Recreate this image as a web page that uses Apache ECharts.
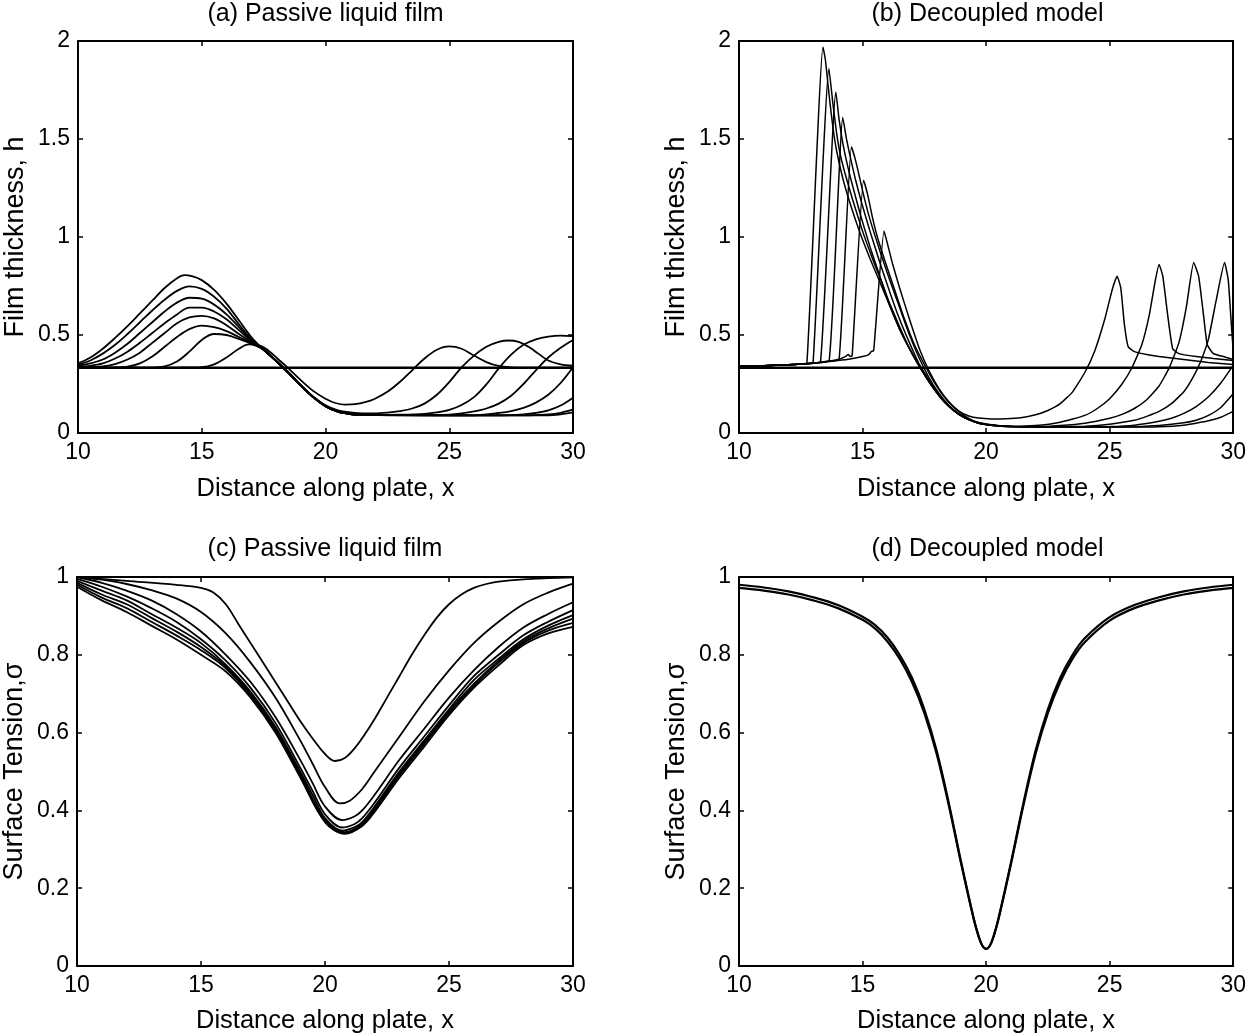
<!DOCTYPE html>
<html>
<head>
<meta charset="utf-8">
<script src="https://cdn.jsdelivr.net/npm/echarts@6/dist/echarts.min.js"></script>
<style>
html,body{margin:0;padding:0;background:#fff;}
#chart{width:1249px;height:1036px;}
</style>
</head>
<body>
<div id="chart"></div>
<script>
// ---------- tick labels ----------
const xTicks = [10, 15, 20, 25, 30];
const hTicks = [0, 0.5, 1, 1.5, 2];
const sTicks = [0, 0.2, 0.4, 0.6, 0.8, 1];

// ---------- titles / axis names ----------
const titles = ['(a) Passive liquid film', '(b) Decoupled model', '(c) Passive liquid film', '(d) Decoupled model'];
const xName = 'Distance along plate, x';
const yNames = ['Film thickness, h', 'Film thickness, h', 'Surface Tension,\u03c3', 'Surface Tension,\u03c3'];

// ---------- panel (a): film thickness, passive film ----------
const aFlat = [[10, 0.333], [30, 0.333]];
const aTail = [[17.5, 0.425], [18, 0.368], [18.5, 0.307], [19, 0.243], [19.5, 0.183], [20, 0.137], [20.5, 0.109], [21, 0.097], [21.5, 0.093], [22, 0.091]];
const a1 = [[10, 0.333], [12, 0.333], [14, 0.334], [15, 0.336], [15.5, 0.35], [16, 0.385], [16.5, 0.43], [16.9, 0.452], [17.3, 0.448], [17.7, 0.42], [18.1, 0.375], [18.5, 0.33], [19, 0.27], [19.5, 0.215], [20, 0.175], [20.4, 0.153], [20.8, 0.145], [21.2, 0.147], [21.6, 0.157], [22, 0.175], [22.5, 0.21], [23, 0.26], [23.5, 0.32], [24, 0.38], [24.5, 0.425], [25, 0.442], [25.5, 0.43], [26, 0.395], [26.5, 0.362], [27, 0.342], [27.5, 0.335], [28, 0.333], [30, 0.333]];
const a2 = [[10, 0.333], [13, 0.334], [13.5, 0.34], [14, 0.365], [14.5, 0.415], [15, 0.475], [15.5, 0.505], [16, 0.5], [16.5, 0.48], [17, 0.455], [17.5, 0.427], [18, 0.37], [18.5, 0.31], [19, 0.245], [19.5, 0.186], [20, 0.142], [20.5, 0.116], [21, 0.105], [21.5, 0.1], [22, 0.1], [22.5, 0.104], [23, 0.112], [23.5, 0.125], [24, 0.15], [24.5, 0.195], [25, 0.26], [25.5, 0.335], [26, 0.395], [26.5, 0.44], [27, 0.465], [27.4, 0.472], [27.8, 0.465], [28.2, 0.44], [28.6, 0.405], [29, 0.37], [29.5, 0.35], [30, 0.343]];
const a3 = [[10, 0.333], [11.5, 0.334], [12, 0.338], [12.5, 0.355], [13, 0.39], [13.5, 0.44], [14, 0.49], [14.5, 0.53], [15, 0.548], [15.5, 0.54], [16, 0.52], [16.5, 0.49], [17, 0.46]];
const a3r = [[23, 0.093], [24, 0.098], [24.5, 0.105], [25, 0.118], [25.5, 0.143], [26, 0.183], [26.5, 0.248], [27, 0.33], [27.5, 0.4], [28, 0.45], [28.5, 0.478], [29, 0.492], [29.5, 0.497], [30, 0.494]];
const a4 = [[10, 0.334], [10.5, 0.335], [11, 0.34], [11.5, 0.352], [12, 0.375], [12.5, 0.41], [13, 0.46], [13.5, 0.51], [14, 0.56], [14.5, 0.59], [15, 0.598], [15.5, 0.585], [16, 0.55], [16.5, 0.505], [17, 0.465]];
const a4r = [[24, 0.091], [25, 0.094], [25.5, 0.1], [26, 0.11], [26.5, 0.125], [27, 0.15], [27.5, 0.19], [28, 0.25], [28.5, 0.32], [29, 0.385], [29.5, 0.435], [30, 0.475]];
const a5 = [[10, 0.338], [10.5, 0.343], [11, 0.355], [11.5, 0.38], [12, 0.415], [12.5, 0.46], [13, 0.51], [13.5, 0.56], [14, 0.605], [14.5, 0.64], [15, 0.64], [15.5, 0.62], [16, 0.58], [16.5, 0.525], [17, 0.47]];
const a5r = [[26, 0.09], [26.5, 0.095], [27, 0.102], [27.5, 0.112], [28, 0.128], [28.5, 0.155], [29, 0.195], [29.5, 0.255], [30, 0.335]];
const a6 = [[10, 0.342], [10.5, 0.355], [11, 0.375], [11.5, 0.41], [12, 0.455], [12.5, 0.51], [13, 0.565], [13.5, 0.62], [14, 0.665], [14.5, 0.69], [15, 0.685], [15.5, 0.655], [16, 0.605], [16.5, 0.54], [17, 0.475]];
const a6r = [[27, 0.09], [28, 0.095], [28.5, 0.102], [29, 0.115], [29.5, 0.14], [30, 0.18]];
const a7 = [[10, 0.348], [10.5, 0.37], [11, 0.405], [11.5, 0.45], [12, 0.505], [12.5, 0.565], [13, 0.625], [13.5, 0.68], [14, 0.725], [14.5, 0.748], [15, 0.735], [15.5, 0.695], [16, 0.635], [16.5, 0.555], [17, 0.48]];
const a7r = [[28, 0.09], [29, 0.095], [29.5, 0.103], [30, 0.12]];
const a8 = [[10, 0.355], [10.5, 0.385], [11, 0.43], [11.5, 0.485], [12, 0.545], [12.5, 0.61], [13, 0.675], [13.5, 0.74], [14, 0.79], [14.3, 0.805], [14.6, 0.8], [15, 0.78], [15.5, 0.73], [16, 0.66], [16.5, 0.575], [17, 0.49]];
const a8r = [[29, 0.09], [30, 0.105]];

// ---------- panel (b): film thickness, decoupled model ----------
const bFlat = [[10, 0.333], [30, 0.333]];
const bBase = [[10, 0.34], [11, 0.343], [12, 0.348], [12.5, 0.352]];
const bEnv = [[14.2, 1.3], [14.5, 1.17], [14.9, 1.02], [15.3, 0.89], [15.7, 0.77], [16.1, 0.65], [16.5, 0.53], [16.9, 0.43], [17.3, 0.34], [17.7, 0.26], [18.1, 0.19], [18.5, 0.135], [18.9, 0.095], [19.3, 0.068], [19.7, 0.05], [20.2, 0.04], [21, 0.033]];
const b1 = [[13, 0.356], [14, 0.37], [14.5, 0.378], [15, 0.39], [15.25, 0.4], [15.35, 0.415], [15.45, 0.42], [15.87, 1.03], [16, 0.97], [16.2, 0.87], [16.5, 0.74], [16.9, 0.58], [17.3, 0.43], [17.7, 0.315], [18.1, 0.225], [18.5, 0.158], [18.9, 0.112], [19.3, 0.087], [19.7, 0.076], [20.2, 0.072], [20.8, 0.073], [21.4, 0.078], [22, 0.093], [22.5, 0.115], [23, 0.15], [23.5, 0.21], [24, 0.31], [24.4, 0.42], [24.8, 0.58], [25.1, 0.73], [25.3, 0.8], [25.45, 0.74], [25.6, 0.55], [25.75, 0.44], [26, 0.415], [26.5, 0.4], [27, 0.39], [28, 0.375], [29, 0.36], [30, 0.35]];
const b2 = [[13, 0.356], [14, 0.375], [14.3, 0.39], [14.42, 0.4], [14.5, 0.39], [14.58, 0.395], [15.04, 1.29], [15.2, 1.22], [15.4, 1.1], [15.6, 1.0], [15.9, 0.88], [16.3, 0.73], [16.7, 0.58], [17.1, 0.45], [17.5, 0.35], [17.9, 0.26], [18.3, 0.185], [18.7, 0.13], [19.1, 0.09], [19.5, 0.062], [20, 0.046], [21, 0.034], [22, 0.038], [23, 0.055], [24, 0.09], [24.5, 0.125], [25, 0.175], [25.5, 0.25], [25.9, 0.333], [26.3, 0.45], [26.6, 0.6], [26.85, 0.78], [27, 0.86], [27.15, 0.8], [27.35, 0.6], [27.55, 0.43], [27.8, 0.405], [28.5, 0.39], [29.2, 0.38], [30, 0.37]];
const b3 = [[13, 0.356], [13.6, 0.366], [14.05, 0.375], [14.55, 1.46], [14.7, 1.4], [14.85, 1.32], [15.05, 1.21], [15.3, 1.09], [15.7, 0.93], [16.1, 0.78], [16.5, 0.64], [16.9, 0.5], [17.3, 0.38], [17.7, 0.28], [18.1, 0.2], [18.5, 0.14], [18.9, 0.098], [19.3, 0.07], [19.7, 0.052], [20.2, 0.041], [21, 0.033], [22, 0.032], [23, 0.038], [24, 0.05], [25, 0.075], [25.5, 0.095], [26, 0.125], [26.5, 0.17], [27, 0.24], [27.4, 0.33], [27.8, 0.46], [28.1, 0.64], [28.4, 0.87], [28.6, 0.8], [28.8, 0.6], [28.95, 0.45], [29.2, 0.405], [29.6, 0.39], [30, 0.375]];
const b4 = [[13, 0.356], [13.65, 0.37], [14.2, 1.61], [14.35, 1.5], [14.5, 1.41], [14.7, 1.3], [14.95, 1.18], [15.3, 1.03], [15.7, 0.87], [16.1, 0.72], [16.5, 0.58], [16.9, 0.46], [17.3, 0.35]];
const b4r = [[21, 0.033], [22, 0.03], [24, 0.035], [25, 0.045], [26, 0.065], [26.5, 0.085], [27, 0.11], [27.5, 0.15], [28, 0.21], [28.4, 0.29], [28.7, 0.37], [29, 0.48], [29.3, 0.67], [29.65, 0.87], [29.8, 0.78], [29.9, 0.6], [30, 0.42]];
const b5 = [[12.8, 0.355], [13.3, 0.365], [13.92, 1.74], [14.05, 1.6], [14.2, 1.48], [14.4, 1.36], [14.6, 1.26], [14.9, 1.12], [15.3, 0.95], [15.7, 0.8], [16.1, 0.66]];
const b5r = [[21, 0.033], [23, 0.03], [25, 0.033], [26, 0.04], [27, 0.06], [27.5, 0.075], [28, 0.1], [28.5, 0.135], [29, 0.185], [29.5, 0.255], [30, 0.345]];
const b6 = [[12.8, 0.355], [13.0, 0.362], [13.64, 1.86], [13.8, 1.68], [13.95, 1.53], [14.1, 1.42], [14.3, 1.32], [14.6, 1.19], [15.0, 1.03], [15.4, 0.89], [15.8, 0.76]];
const b6r = [[21, 0.033], [25, 0.03], [26, 0.032], [27, 0.038], [28, 0.052], [28.5, 0.065], [29, 0.09], [29.5, 0.13], [30, 0.2]];
const b7 = [[12.75, 0.36], [13.4, 1.97], [13.5, 1.9], [13.65, 1.72], [13.8, 1.56], [13.95, 1.44]];
const b7r = [[21, 0.033], [26, 0.03], [27, 0.032], [28, 0.04], [28.5, 0.05], [29, 0.062], [29.5, 0.08], [30, 0.11]];

// ---------- panel (c): surface tension, passive film ----------
const cFlat = [[10, 1], [30, 1]];
const c1 = [[10, 1.0], [12, 0.99], [14, 0.98], [15, 0.972], [15.5, 0.96], [16, 0.93], [16.5, 0.88], [17, 0.83], [17.5, 0.78], [18, 0.73], [18.5, 0.68], [19, 0.63], [19.5, 0.585], [20, 0.545], [20.4, 0.527], [20.8, 0.535], [21.2, 0.56], [21.6, 0.595], [22, 0.635], [22.5, 0.69], [23, 0.745], [23.5, 0.8], [24, 0.85], [24.5, 0.895], [25, 0.93], [25.5, 0.955], [26, 0.972], [26.5, 0.982], [27, 0.988], [28, 0.994], [29, 0.997], [30, 0.999]];
const c2 = [[10, 1.0], [11, 0.993], [12, 0.982], [13, 0.966], [14, 0.945], [15, 0.91], [16, 0.855], [17, 0.78], [18, 0.69], [19, 0.58], [19.5, 0.52], [20, 0.46], [20.6, 0.418], [21, 0.425], [21.5, 0.455], [22, 0.5], [23, 0.59], [24, 0.68], [25, 0.76], [26, 0.83], [27, 0.885], [28, 0.93], [29, 0.96], [30, 0.983]];
const c3 = [[10, 1.0], [11, 0.985], [12, 0.965], [13, 0.94], [14, 0.905], [15, 0.86], [16, 0.8], [17, 0.73], [18, 0.64], [19, 0.53], [19.5, 0.47], [20, 0.41], [20.7, 0.375], [21.2, 0.385], [21.5, 0.4], [22, 0.44], [23, 0.53], [24, 0.61], [25, 0.69], [26, 0.76], [27, 0.82], [28, 0.87], [29, 0.905], [30, 0.935]];
const c4 = [[10, 0.995], [11, 0.975], [12, 0.95], [13, 0.92], [14, 0.885], [15, 0.84], [16, 0.785], [17, 0.715], [18, 0.625], [19, 0.51], [19.5, 0.45], [20, 0.39], [20.7, 0.356], [21.2, 0.365], [21.5, 0.38], [22, 0.42], [23, 0.51], [24, 0.59], [25, 0.67], [26, 0.745], [27, 0.8], [28, 0.85], [29, 0.885], [30, 0.915]];
const c5 = [[10, 0.99], [11, 0.965], [12, 0.94], [13, 0.905], [14, 0.87], [15, 0.83], [16, 0.775], [17, 0.705], [18, 0.615], [19, 0.5], [19.5, 0.44], [20, 0.38], [20.7, 0.348], [21.2, 0.357], [21.5, 0.37], [22, 0.41], [23, 0.5], [24, 0.58], [25, 0.66], [26, 0.735], [27, 0.79], [28, 0.84], [29, 0.875], [30, 0.902]];
const c6 = [[10, 0.985], [11, 0.955], [12, 0.93], [13, 0.895], [14, 0.86], [15, 0.82], [16, 0.77], [17, 0.7], [18, 0.61], [19, 0.495], [20, 0.375], [20.8, 0.344], [21.5, 0.365], [22, 0.405], [23, 0.495], [24, 0.575], [25, 0.655], [26, 0.725], [27, 0.785], [28, 0.835], [29, 0.868], [30, 0.893]];
const c7 = [[10, 0.98], [11, 0.947], [12, 0.92], [13, 0.885], [14, 0.85], [15, 0.812], [16, 0.765], [17, 0.695], [18, 0.605], [19, 0.49], [20, 0.372], [20.8, 0.342], [21.5, 0.362], [22, 0.4], [23, 0.49], [24, 0.57], [25, 0.65], [26, 0.72], [27, 0.78], [28, 0.83], [29, 0.862], [30, 0.882]];
const c8 = [[10, 0.975], [11, 0.94], [12, 0.91], [13, 0.875], [14, 0.84], [15, 0.8], [16, 0.757], [17, 0.69], [18, 0.6], [19, 0.485], [20, 0.37], [20.8, 0.34], [21.5, 0.36], [22, 0.396], [23, 0.484], [24, 0.564], [25, 0.645], [26, 0.715], [27, 0.773], [28, 0.825], [29, 0.855], [30, 0.872]];

// ---------- panel (d): surface tension, decoupled model (band edges) ----------
const dLower = [[10, 0.972], [11, 0.965], [12, 0.955], [13, 0.94], [14, 0.92], [15, 0.89], [15.5, 0.868], [16, 0.835], [16.5, 0.79], [17, 0.73], [17.5, 0.65], [18, 0.545], [18.5, 0.41], [19, 0.26], [19.5, 0.12], [19.7, 0.075], [19.85, 0.052], [20, 0.044], [20.15, 0.052], [20.3, 0.075], [20.5, 0.12], [21, 0.26], [21.5, 0.41], [22, 0.545], [22.5, 0.65], [23, 0.73], [23.5, 0.79], [24, 0.833], [25, 0.888], [26, 0.92], [27, 0.94], [28, 0.955], [29, 0.965], [30, 0.972]];
const dUpper = [[10, 0.98], [11, 0.973], [12, 0.963], [13, 0.948], [14, 0.928], [15, 0.898], [15.5, 0.877], [16, 0.845], [16.5, 0.8], [17, 0.741], [17.5, 0.66], [18, 0.553], [18.5, 0.416], [19, 0.264], [19.5, 0.122], [19.7, 0.076], [19.85, 0.052], [20, 0.044], [20.15, 0.052], [20.3, 0.076], [20.5, 0.122], [21, 0.264], [21.5, 0.416], [22, 0.553], [22.5, 0.66], [23, 0.741], [23.5, 0.8], [24, 0.843], [25, 0.897], [26, 0.928], [27, 0.948], [28, 0.963], [29, 0.973], [30, 0.98]];

// ---------- assemble ----------
const FONT = '"Liberation Sans", Arial, Helvetica, sans-serif';
const grids = [
  {left: 78, top: 41, width: 495, height: 392},
  {left: 739, top: 41, width: 497, height: 392},
  {left: 77, top: 577, width: 496, height: 389},
  {left: 739, top: 577, width: 497, height: 389}
];
const yTickSets = [hTicks, hTicks, sTicks, sTicks];

const xAxes = [], yAxes = [];
grids.forEach((g, i) => {
  const common = {
    type: 'value', gridIndex: i, min: xTicks[0], max: xTicks[xTicks.length - 1],
    interval: xTicks[1] - xTicks[0], splitLine: {show: false},
    axisLine: {show: true, onZero: false, lineStyle: {color: '#000', width: 2}},
    axisTick: {show: true, inside: true, length: 5, lineStyle: {color: '#000', width: 1.5}}
  };
  xAxes.push(Object.assign({}, common, {
    position: 'bottom',
    axisLabel: {color: '#000', fontSize: 23, fontFamily: FONT, margin: 8},
    name: xName, nameLocation: 'middle', nameGap: i < 2 ? 43 : 42,
    nameTextStyle: {color: '#000', fontSize: 25.5, fontFamily: FONT}
  }));
  xAxes.push(Object.assign({}, common, {position: 'top', axisLabel: {show: false}}));
  const yt = yTickSets[i];
  const ycommon = {
    type: 'value', gridIndex: i, min: yt[0], max: yt[yt.length - 1],
    interval: yt[1] - yt[0], splitLine: {show: false},
    axisLine: {show: true, onZero: false, lineStyle: {color: '#000', width: 2}},
    axisTick: {show: true, inside: true, length: 5, lineStyle: {color: '#000', width: 1.5}}
  };
  yAxes.push(Object.assign({}, ycommon, {
    position: 'left',
    axisLabel: {color: '#000', fontSize: 23, fontFamily: FONT, margin: 8},
    name: yNames[i], nameLocation: 'middle', nameGap: 49, nameRotate: 90,
    nameTextStyle: {color: '#000', fontSize: 27, fontFamily: FONT}
  }));
  yAxes.push(Object.assign({}, ycommon, {position: 'right', axisLabel: {show: false}}));
});

const series = [];
function addLine(panel, data, width, smooth) {
  series.push({
    type: 'line', xAxisIndex: panel * 2, yAxisIndex: panel * 2, data: data,
    showSymbol: false, symbol: 'none', smooth: smooth,
    lineStyle: {color: '#000', width: width}, clip: true, silent: true
  });
}
// (a)
addLine(0, aFlat, 2.6, false);
addLine(0, a1, 1.8, 0.35);
addLine(0, a2, 1.8, 0.35);
addLine(0, a3.concat(aTail, a3r), 1.8, 0.35);
addLine(0, a4.concat(aTail, a4r), 1.8, 0.35);
addLine(0, a5.concat(aTail, a5r), 1.8, 0.35);
addLine(0, a6.concat(aTail, a6r), 1.8, 0.35);
addLine(0, a7.concat(aTail, a7r), 1.8, 0.35);
addLine(0, a8.concat(aTail, a8r), 1.8, 0.35);
// (b)
addLine(1, bFlat, 2.6, false);
addLine(1, bBase.concat(b1), 1.5, 0.15);
addLine(1, bBase.concat(b2), 1.5, 0.15);
addLine(1, bBase.concat(b3), 1.5, 0.15);
addLine(1, bBase.concat(b4, bEnv.slice(10), b4r.slice(1)), 1.5, 0.15);
addLine(1, bBase.concat(b5, bEnv.slice(7), b5r.slice(1)), 1.5, 0.15);
addLine(1, bBase.concat(b6, bEnv.slice(5), b6r.slice(1)), 1.5, 0.15);
addLine(1, bBase.concat(b7, bEnv, b7r.slice(1)), 1.5, 0.15);
// (c)
addLine(2, cFlat, 2, false);
[c1, c2, c3, c4, c5, c6, c7, c8].forEach(c => addLine(2, c, 1.8, 0.35));
// (d)
addLine(3, dLower, 2.2, 0.35);
addLine(3, dUpper, 2.2, 0.35);

const graphics = titles.map((t, i) => ({
  type: 'text',
  x: grids[i].left + grids[i].width / 2,
  y: i < 2 ? 14 : 549,
  style: {text: t, font: '25px ' + FONT, fill: '#000', textAlign: 'center', textVerticalAlign: 'middle'}
}));

const chart = echarts.init(document.getElementById('chart'), null, {renderer: 'canvas'});
chart.setOption({
  animation: false,
  backgroundColor: '#fff',
  grid: grids.map(g => Object.assign({containLabel: false}, g)),
  xAxis: xAxes,
  yAxis: yAxes,
  series: series,
  graphic: graphics
});
</script>
</body>
</html>
